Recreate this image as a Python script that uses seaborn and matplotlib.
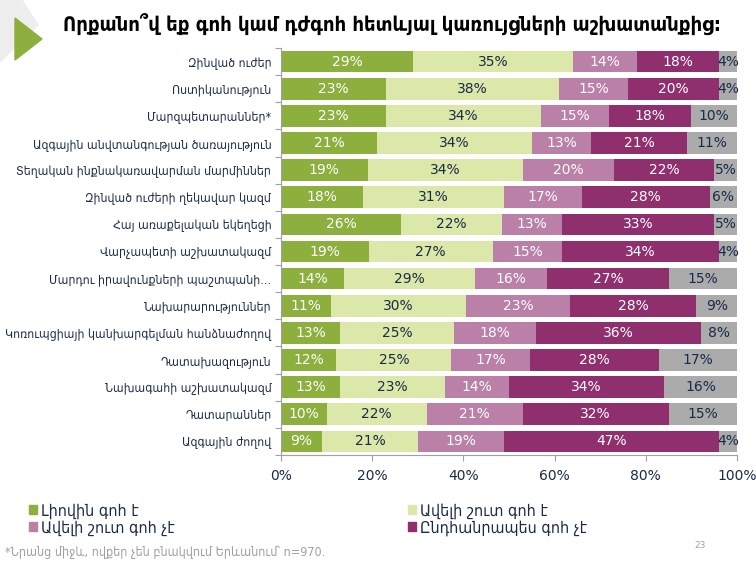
import numpy as np
import pandas as pd
import matplotlib
matplotlib.use("Agg")
import matplotlib.pyplot as plt
import matplotlib.patches as mpatches
from matplotlib import font_manager
import seaborn as sns

# Data
categories = [
    "Զինված ուժեր",
    "Ոստիկանություն",
    "Մարզպետարաններ*",
    "Ազգային անվտանգության ծառայություն",
    "Տեղական ինքնակառավարման մարմիններ",
    "Զինված ուժերի ղեկավար կազմ",
    "Հայ առաքելական եկեղեցի",
    "Վարչապետի աշխատակազմ",
    "Մարդու իրավունքների պաշտպանի…",
    "Նախարարություններ",
    "Կոռուպցիայի կանխարգելման հանձնաժողով",
    "Դատախազություն",
    "Նախագահի աշխատակազմ",
    "Դատարաններ",
    "Ազգային ժողով",
]
fully_satisfied = [29, 23, 23, 21, 19, 18, 26, 19, 14, 11, 13, 12, 13, 10, 9]
rather_satisfied = [35, 38, 34, 34, 34, 31, 22, 27, 29, 30, 25, 25, 23, 22, 21]
rather_unsatisfied = [14, 15, 15, 13, 20, 17, 13, 15, 16, 23, 18, 17, 14, 21, 19]
not_satisfied = [18, 20, 18, 21, 22, 28, 33, 34, 27, 28, 36, 28, 34, 32, 47]
dont_know = [4, 4, 10, 11, 5, 6, 5, 4, 15, 9, 8, 17, 16, 15, 4]

series_names = ["Լիովին գոհ է", "Ավելի շուտ գոհ է", "Ավելի շուտ գոհ չէ",
                "Ընդհանրապես գոհ չէ", "Դժվարանում եմ պատասխանել"]
colors = ["#8CAF3D", "#DCE8A9", "#BA80A7", "#8F2F6D", "#ABABAC"]
text_colors = ["white", "#1B2A47", "white", "white", "#1B2A47"]

df = pd.DataFrame({
    series_names[0]: fully_satisfied,
    series_names[1]: rather_satisfied,
    series_names[2]: rather_unsatisfied,
    series_names[3]: not_satisfied,
    series_names[4]: dont_know,
}, index=categories)

# bars fill the full 100% width
share = df.div(df.sum(axis=1), axis=0) * 100
cum = share.cumsum(axis=1)

sns.set_theme(style="white")
plt.rcParams["font.family"] = ["DejaVu Sans"]

# narrow face for the Armenian labels
cond = font_manager.FontProperties(family="DejaVu Sans", stretch="condensed", size=8.8)
foot = font_manager.FontProperties(family="DejaVu Sans", stretch="condensed", size=9)
cond_bold = font_manager.FontProperties(family="DejaVu Sans", stretch="condensed",
                                        weight="bold", size=14.5)

fig = plt.figure(figsize=(7.56, 5.64), dpi=100)
ax = fig.add_axes([281 / 756, 1 - 455 / 564, 456 / 756, 407 / 564])

# stacked bars: draw cumulative totals from the largest down
for i in range(len(series_names) - 1, -1, -1):
    sns.barplot(x=cum.iloc[:, i].values, y=categories, orient="h",
                color=colors[i], saturation=1, width=0.8, linewidth=0, ax=ax)

# segment labels
for i, name in enumerate(series_names):
    start = cum.iloc[:, i] - share.iloc[:, i]
    for j, cat in enumerate(categories):
        xc = start.iloc[j] + share.iloc[j, i] / 2
        ax.text(xc, j, f"{df.iloc[j, i]}%", ha="center", va="center",
                fontsize=10, color=text_colors[i])

ax.set_xlim(0, 100)
ax.set_ylim(len(categories) - 0.5, -0.5)
ax.set_xticks(np.arange(0, 101, 20))
ax.set_xticklabels([f"{v}%" for v in range(0, 101, 20)], color="#1B2A47", fontsize=10)
ax.set_yticks(range(len(categories)))
ax.set_yticklabels(categories, color="#1B2A47", fontproperties=cond)
ax.set_yticks(np.arange(-0.5, len(categories), 1), minor=True)
ax.tick_params(axis="y", which="major", length=0, pad=7)
ax.tick_params(axis="y", which="minor", length=4, color="#A0A0A0", width=0.8, left=True)
ax.tick_params(axis="x", length=4, color="#A0A0A0", width=0.8, bottom=True, pad=6)
ax.set_xlabel("")
ax.set_ylabel("")
for side in ["top", "right"]:
    ax.spines[side].set_visible(False)
for side in ["left", "bottom"]:
    ax.spines[side].set_color("#A0A0A0")
    ax.spines[side].set_linewidth(0.8)

# logo on the top left
fig.patches.append(mpatches.Polygon([[0, 564], [22, 564], [38, 539], [0, 502]],
                                    closed=True, transform=None, color="#EEEEEE",
                                    figure=fig))
tri = mpatches.Polygon([[15 / 756, 1 - 18 / 564], [15 / 756, 1 - 60 / 564],
                        [42 / 756, 1 - 39 / 564]], closed=True,
                       transform=fig.transFigure, color="#8CAF3D", figure=fig)
fig.patches.append(tri)

fig.text(63 / 756, 1 - 24 / 564, "Որքանո՞վ եք գոհ կամ դժգոհ հետևյալ կառույցների աշխատանքից:",
         fontproperties=cond_bold, color="black", va="center", ha="left")

# legend
handles = [mpatches.Patch(color=colors[0], label=series_names[0]),
           mpatches.Patch(color=colors[2], label=series_names[2]),
           mpatches.Patch(color=colors[1], label=series_names[1]),
           mpatches.Patch(color=colors[3], label=series_names[3])]
leg_font = font_manager.FontProperties(family="DejaVu Sans", stretch="condensed", size=11.5)
fig.legend(handles=handles, ncol=2, loc="upper left",
           bbox_to_anchor=(29 / 756, 1 - 503 / 564), frameon=False,
           borderpad=0, borderaxespad=0,
           prop=leg_font, handlelength=0.5, handleheight=0.5, handletextpad=0.25,
           columnspacing=14.6, labelspacing=0.08, labelcolor="#1B2A47")

fig.text(5 / 756, 1 - 552 / 564, "*Նրանց միջև, ովքեր չեն բնակվում Երևանում՝ n=970.",
         fontproperties=foot, color="#A0A0A0", va="center", ha="left")
fig.text(700 / 756, 1 - 546 / 564, "23", fontsize=6.5, color="#A0A0A0",
         va="center", ha="center")

fig.savefig("out.png", dpi=100)
